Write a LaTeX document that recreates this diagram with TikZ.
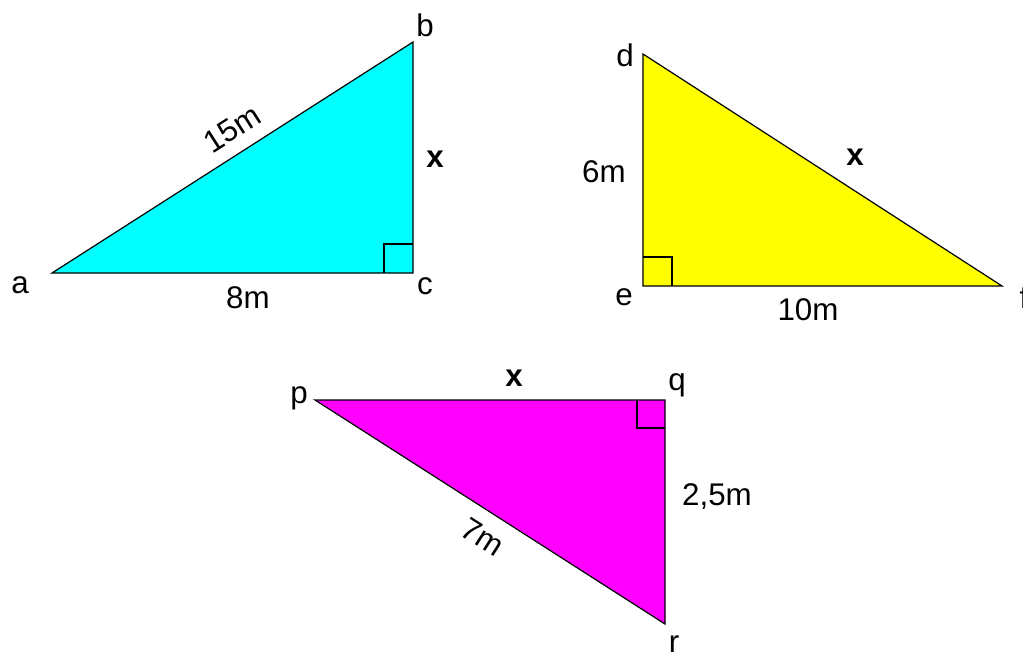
\documentclass[tikz,border=0pt]{standalone}
\usepackage{fontspec}
\setmainfont{Liberation Sans}
\begin{document}
\begin{tikzpicture}[x=0.75pt,y=-0.75pt,
  tri/.style={draw=black,line width=0.9pt,line join=miter},
  ra/.style={draw=black,line width=0.8pt},
  lbl/.style={font=\fontsize{23.5}{28}\selectfont,inner sep=0pt},
  bx/.style={font=\fontsize{23.5}{28}\selectfont\bfseries,inner sep=0pt}]
\useasboundingbox (0,0) rectangle (1023,652);
% triangle 1
\coordinate (a) at (52,273);
\coordinate (b) at (413,42);
\coordinate (c) at (413,273);
\path[fill={rgb,255:red,0;green,255;blue,255},tri] (a) -- (b) -- (c) -- cycle;
\draw[ra] (384,273) |- (413,244);
\node[lbl] (la) at (20,285) {a};
\node[lbl] (lb) at (425,25) {b};
\node[lbl] (lc) at (425,286) {c};
\node[lbl,rotate=32.6] (l15) at (232,129) {15m};
\node[bx] (x1) at (435,159) {x};
\node[lbl] (l8) at (248,298) {8m};
% triangle 2
\coordinate (d) at (643,54);
\coordinate (e) at (643,286);
\coordinate (f) at (1002,286);
\path[fill={rgb,255:red,255;green,255;blue,0},tri] (d) -- (e) -- (f) -- cycle;
\draw[ra] (643,257) -| (672,286);
\node[lbl] (ld) at (625,55) {d};
\node[lbl] (le) at (624,297) {e};
\node[lbl] (lf) at (1024,297) {f};
\node[lbl] (l6) at (604,172) {6m};
\node[bx] (x2) at (855,157) {x};
\node[lbl] (l10) at (808,310) {10m};
% triangle 3
\coordinate (p) at (315,400);
\coordinate (q) at (665,400);
\coordinate (r) at (665,624);
\path[fill={rgb,255:red,255;green,0;blue,255},tri] (p) -- (q) -- (r) -- cycle;
\draw[ra] (637,400) |- (665,428);
\node[lbl] (lp) at (299,398) {p};
\node[lbl] (lq) at (677,385) {q};
\node[lbl] (lr) at (674,644) {r};
\node[bx] (x3) at (514,378) {x};
\node[lbl] (l25) at (717,497) {2,5m};
\node[lbl,rotate=-32.6] (l7) at (483,537) {7m};
\end{tikzpicture}
\end{document}
